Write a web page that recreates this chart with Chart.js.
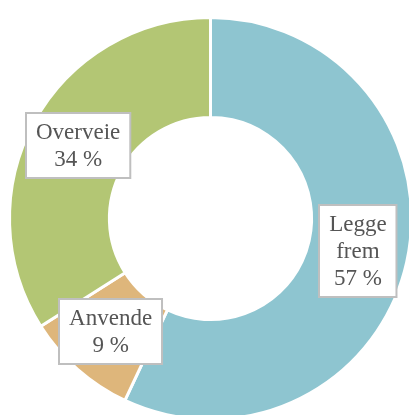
<!DOCTYPE html>
<html>
<head>
<meta charset="utf-8">
<script src="https://cdn.jsdelivr.net/npm/chart.js@4/dist/chart.umd.min.js"></script>
<style>
  html, body { margin: 0; padding: 0; background: #fff; overflow: hidden; }
  #wrap { position: absolute; left: 0; top: 0; width: 421px; height: 437px; }
</style>
</head>
<body>
<div id="wrap"><canvas id="donut"></canvas></div>
<script>
// Andel per kategori (prosent)
const categories = [['Legge', 'frem'], ['Anvende'], ['Overveie']];
const shares = [57, 9, 34];
const colors = ['#8EC5D0', '#DEB67B', '#B3C674'];

// Tegner etikett-bokser midt i hvert segment
const boxLabels = {
    id: 'boxLabels',
    afterDatasetsDraw(chart) {
        const ctx = chart.ctx;
        const arcs = chart.getDatasetMeta(0).data;
        const lineH = 27;
        ctx.save();
        ctx.font = '23px "Liberation Serif", "Times New Roman", serif';
        ctx.textAlign = 'center';
        ctx.textBaseline = 'middle';
        arcs.forEach((arc, i) => {
            const lines = categories[i].concat([shares[i] + ' %']);
            const p = arc.getCenterPoint();
            const w = Math.max(...lines.map(l => ctx.measureText(l).width)) + 20;
            const h = lines.length * lineH + 11;
            const x = Math.round(p.x - w / 2);
            const y = Math.round(p.y - h / 2);
            ctx.fillStyle = '#fff';
            ctx.fillRect(x, y, w, h);
            ctx.strokeStyle = '#BFBFBF';
            ctx.lineWidth = 2;
            ctx.strokeRect(x, y, w, h);
            ctx.fillStyle = '#555555';
            lines.forEach((l, k) => {
                ctx.fillText(l, p.x, y + 5.5 + lineH * k + lineH / 2 + 1);
            });
        });
        ctx.restore();
    }
};

new Chart(document.getElementById('donut'), {
    type: 'doughnut',
    data: {
        labels: categories,
        datasets: [{
            data: shares,
            backgroundColor: colors,
            borderColor: '#fff',
            borderWidth: 3,
            hoverOffset: 0
        }]
    },
    options: {
        responsive: true,
        maintainAspectRatio: false,
        animation: false,
        radius: 201,
        cutout: '50.3%',
        plugins: {
            legend: { display: false },
            tooltip: { enabled: false }
        }
    },
    plugins: [boxLabels]
});
</script>
</body>
</html>
